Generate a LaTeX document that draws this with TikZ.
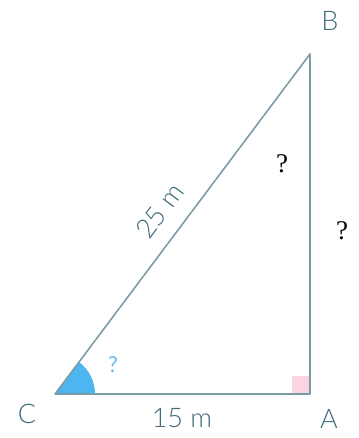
\documentclass[tikz,border=0pt]{standalone}
\usepackage{fontspec}
\setmainfont{Lato}[UprightFont=* Light]
\newfontfamily\latoreg{Lato}
\newfontfamily\serifq{Liberation Serif}
\definecolor{edgecol}{HTML}{7A9CA6}
\definecolor{labcol}{HTML}{3F6B7A}
\definecolor{anglefill}{HTML}{4DB6F0}
\definecolor{qblue}{HTML}{5FBDF2}
\definecolor{rightpink}{HTML}{FCD3E2}
\begin{document}
\begin{tikzpicture}[x=1pt,y=1pt,
  side/.style={draw=edgecol,line width=1.6pt,line cap=round,line join=round},
  vlabel/.style={text=labcol,font=\fontsize{27}{27}\selectfont,inner sep=0pt},
  qlabel/.style={text=black,font=\serifq\fontsize{27}{27}\selectfont,inner sep=0pt}]
\useasboundingbox (0,0) rectangle (358,438);
\coordinate (C) at (55,44);
\coordinate (A) at (310,44);
\coordinate (B) at (310,384);
% right angle mark
\fill[rightpink] (A) rectangle ++(-18,18);
% angle at C
\fill[anglefill] (C) -- ++(40,0) arc[start angle=0,end angle=53.13,radius=40] -- cycle;
\draw[side] (C) -- (A) -- (B) -- cycle;
\node[vlabel] (lC) at (27,24) {C};
\node[vlabel] (lA) at (329,19) {A};
\node[vlabel] (lB) at (330,417) {B};
\node[vlabel] (l15) at (182,20) {15 m};
\node[vlabel,rotate=53.05] (l25) at (160,227) {25 m};
\node[qlabel] (q1) at (282,274) {?};
\node[qlabel] (q2) at (342,207) {?};
\node[text=qblue,font=\latoreg\fontsize{22}{22}\selectfont,inner sep=0pt] (q3) at (113,73) {?};
\end{tikzpicture}
\end{document}
